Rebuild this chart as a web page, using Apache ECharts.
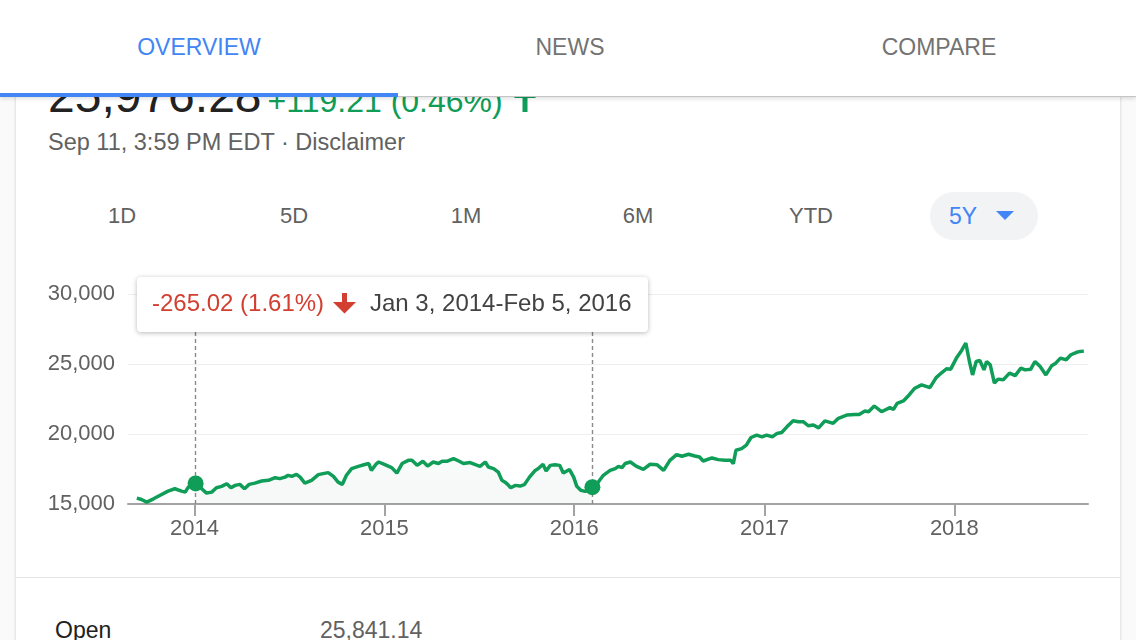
<!DOCTYPE html>
<html>
<head>
<meta charset="utf-8">
<title>Dow Jones 5Y</title>
<script src="https://cdn.jsdelivr.net/npm/echarts@6/dist/echarts.min.js"></script>
<style>
    html, body {
        margin: 0;
        padding: 0;
        width: 1136px;
        height: 640px;
        overflow: hidden;
        background: #fafafa;
        font-family: "Liberation Sans", Arial, sans-serif;
    }
    .card {
        position: absolute;
        left: 16px;
        top: 80px;
        width: 1104px;
        height: 600px;
        background: #fff;
        box-shadow: 0 0 3px rgba(0, 0, 0, 0.2);
    }
    .nav {
        position: absolute;
        left: 0;
        top: 0;
        width: 1136px;
        height: 96px;
        background: #fff;
        border-bottom: 1px solid #c4c4c4;
        box-shadow: 0 2px 4px rgba(0, 0, 0, 0.12);
        z-index: 10;
    }
    .tab {
        position: absolute;
        top: 34px;
        font-size: 23px;
        line-height: 26px;
        color: #737373;
        transform: translateX(-50%);
        white-space: nowrap;
    }
    .ink {
        position: absolute;
        left: 0;
        top: 93px;
        width: 398px;
        height: 4px;
        background: #4285f4;
    }
    .price {
        position: absolute;
        left: 48px;
        top: 72px;
        line-height: 48px;
        white-space: nowrap;
    }
    .price .big { font-size: 48px; color: #222; }
    .price .chg { font-size: 32px; color: #0f9d58; margin-left: 6px; }
    .stamp {
        position: absolute;
        left: 48px;
        top: 129px;
        font-size: 23.5px;
        line-height: 26px;
        color: #616161;
        white-space: nowrap;
    }
    .period {
        position: absolute;
        top: 203px;
        font-size: 22px;
        line-height: 26px;
        color: #616161;
        transform: translateX(-50%);
    }
    .chip {
        position: absolute;
        left: 930px;
        top: 192px;
        width: 108px;
        height: 48px;
        border-radius: 24px;
        background: #f1f3f4;
    }
    .chip span {
        position: absolute;
        left: 19px;
        top: 11px;
        font-size: 23px;
        line-height: 26px;
        color: #4285f4;
    }
    #chart {
        position: absolute;
        left: 0;
        top: 250px;
        width: 1136px;
        height: 330px;
    }
    .sep {
        position: absolute;
        left: 16px;
        top: 577px;
        width: 1104px;
        height: 1px;
        background: #e3e3e3;
    }
    .row {
        position: absolute;
        top: 617px;
        font-size: 23px;
        line-height: 26px;
        white-space: nowrap;
    }
</style>
</head>
<body>
<div class="card"></div>

<div class="price">
    <span class="big">25,976.28</span><span class="chg">+119.21 (0.46%)</span>
    <svg width="24" height="26" viewBox="0 0 24 26" style="margin-left:6px;vertical-align:baseline">
        <polygon points="9.5,26 14.5,26 14.5,12 23,12 12,0 1,12 9.5,12" fill="#0f9d58"></polygon>
    </svg>
</div>
<div class="stamp">Sep 11, 3:59 PM EDT · Disclaimer</div>

<div class="period" style="left:122px">1D</div>
<div class="period" style="left:294px">5D</div>
<div class="period" style="left:466px">1M</div>
<div class="period" style="left:638px">6M</div>
<div class="period" style="left:811px">YTD</div>
<div class="chip">
    <span>5Y</span>
    <svg width="18" height="10" style="position:absolute;left:66px;top:19px">
        <polygon points="0,0 18,0 9,9" fill="#4285f4"></polygon>
    </svg>
</div>

<div id="chart"></div>

<div class="sep"></div>
<div class="row" style="left:55px;color:#212121">Open</div>
<div class="row" style="left:320px;color:#616161">25,841.14</div>

<div class="nav">
    <div class="tab" style="left:199px;color:#4285f4">OVERVIEW</div>
    <div class="tab" style="left:570px">NEWS</div>
    <div class="tab" style="left:939px">COMPARE</div>
    <div class="ink"></div>
</div>

<script>
/****************数据（从图上读出的周收盘价）********************/
var weekDates = [
    '2013-09-12', '2013-09-21', '2013-10-01', '2013-10-14', '2013-10-26', '2013-11-11', '2013-11-24',
    '2013-12-07', '2013-12-14', '2013-12-20',
    '2014-01-03', '2014-01-11', '2014-01-24', '2014-02-03', '2014-02-12', '2014-02-22', '2014-03-04',
    '2014-03-12', '2014-03-20', '2014-03-29', '2014-04-07', '2014-04-16', '2014-04-27', '2014-05-10',
    '2014-05-23', '2014-06-05', '2014-06-14', '2014-06-24', '2014-06-30', '2014-07-07', '2014-07-16',
    '2014-07-23', '2014-08-01', '2014-08-14', '2014-08-27', '2014-09-05', '2014-09-15', '2014-09-25',
    '2014-10-04', '2014-10-12', '2014-10-20', '2014-10-30', '2014-11-12', '2014-11-26', '2014-12-02',
    '2014-12-07', '2014-12-17', '2014-12-21',
    '2015-01-02', '2015-01-15', '2015-01-25', '2015-02-04', '2015-02-16', '2015-02-23', '2015-03-05',
    '2015-03-16', '2015-03-25', '2015-04-05', '2015-04-15', '2015-04-22', '2015-05-01', '2015-05-14',
    '2015-05-24', '2015-06-02', '2015-06-15', '2015-06-25', '2015-07-04', '2015-07-14', '2015-07-20',
    '2015-07-30', '2015-08-08', '2015-08-15', '2015-08-21', '2015-08-26', '2015-09-01', '2015-09-10',
    '2015-09-19', '2015-09-27', '2015-10-07', '2015-10-18', '2015-10-24', '2015-11-02', '2015-11-08',
    '2015-11-16', '2015-11-25', '2015-12-04', '2015-12-11', '2015-12-23', '2015-12-31',
    '2016-01-06', '2016-01-14', '2016-01-22', '2016-02-05', '2016-02-14', '2016-02-26', '2016-03-10',
    '2016-03-20', '2016-03-26', '2016-04-02', '2016-04-08', '2016-04-18', '2016-04-29', '2016-05-13',
    '2016-05-26', '2016-06-08', '2016-06-21', '2016-07-03', '2016-07-16', '2016-07-26', '2016-08-08',
    '2016-08-20', '2016-08-29', '2016-09-05', '2016-09-22', '2016-10-04', '2016-10-17', '2016-10-28',
    '2016-11-02', '2016-11-07', '2016-11-18', '2016-11-27', '2016-12-06', '2016-12-17', '2016-12-27',
    '2017-01-05', '2017-01-16', '2017-01-25', '2017-02-03', '2017-02-13', '2017-02-25', '2017-03-07',
    '2017-03-17', '2017-03-26', '2017-04-05', '2017-04-15', '2017-04-27', '2017-05-13', '2017-05-23',
    '2017-06-08', '2017-06-24', '2017-07-02', '2017-07-13', '2017-07-20', '2017-07-31', '2017-08-14',
    '2017-08-30', '2017-09-06', '2017-09-13', '2017-09-25', '2017-10-06', '2017-10-17', '2017-10-30',
    '2017-11-15', '2017-11-27', '2017-12-08', '2017-12-17', '2017-12-25',
    '2018-01-06', '2018-01-15', '2018-01-23', '2018-01-30', '2018-02-05', '2018-02-12', '2018-02-19',
    '2018-02-27', '2018-03-04', '2018-03-11', '2018-03-19', '2018-03-26', '2018-04-05', '2018-04-17',
    '2018-04-28', '2018-05-09', '2018-05-17', '2018-05-28', '2018-06-05', '2018-06-15', '2018-06-26',
    '2018-07-07', '2018-07-15', '2018-07-24', '2018-08-04', '2018-08-13', '2018-08-23', '2018-08-31',
    '2018-09-07'
];
var closeValues = [
    15420, 15320, 15130, 15370, 15610, 15920, 16090,
    15920, 15850, 16210,
    16470, 16210, 15780, 15850, 16160, 16260, 16450,
    16160, 16330, 16400, 16090, 16400, 16490, 16640,
    16690, 16880, 16810, 16920, 17050, 16970, 17120,
    16920, 16490, 16690, 17100, 17170, 17240, 16970,
    16560, 16400, 17050, 17530, 17690, 17840, 17890,
    17400, 17890, 18000,
    17810, 17600, 17210, 17890, 18120, 18120, 17760,
    18050, 17710, 18000, 17890, 18050, 18050, 18240,
    18070, 17890, 17960, 17810, 17690, 18000, 17640,
    17530, 17280, 16690, 16560, 16400, 16160, 16330,
    16280, 16380, 16920, 17400, 17530, 17840, 17360,
    17760, 17810, 17760, 17210, 17460, 16920,
    16260, 15970, 15900, 16205, 16450, 17050, 17400,
    17530, 17690, 17600, 17890, 18000, 17710, 17480,
    17840, 17810, 17400, 18120, 18530, 18410, 18550,
    18430, 18360, 18070, 18290, 18170, 18120, 18120,
    17890, 18840, 18960, 19200, 19750, 19920, 19800,
    19920, 19800, 20040, 20110, 20510, 20940, 20870,
    20870, 20590, 20640, 20440, 20940, 20760, 21120,
    21350, 21400, 21400, 21640, 21590, 22000, 21590,
    21880, 21760, 22190, 22360, 22790, 23270, 23510,
    23310, 24030, 24390, 24660, 24630,
    25490, 25970, 26500, 25180, 24220, 25180, 25250,
    24580, 25180, 24940, 23630, 23920, 23870, 24350,
    24170, 24710, 24580, 24630, 25180, 24820, 24220,
    24870, 25060, 25420, 25300, 25660, 25820, 25900,
    25920
];
var yearTicks = ['2014', '2015', '2016', '2017', '2018'];
var priceTicks = [15000, 20000, 25000, 30000];
// 选中区间（起点、终点）
var rangeDates = ['2014-01-03', '2016-02-05'];
var rangeChange = '-265.02 (1.61%)';
var rangeLabel = 'Jan 3, 2014-Feb 5, 2016';

var DAY = 24 * 3600 * 1000;

// 千分位
function withComma(v) {
    return String(v).replace(/\B(?=(\d{3})+(?!\d))/g, ',');
}

/**************************折线图*******************/
function createStockLine() {
    var lineData = [];
    var areaData = [];
    for (var i = 0; i < weekDates.length; i++) {
        lineData.push([weekDates[i], closeValues[i]]);
        if (weekDates[i] >= rangeDates[0] && weekDates[i] <= rangeDates[1]) {
            areaData.push([weekDates[i], closeValues[i]]);
        }
    }
    var startIdx = weekDates.indexOf(rangeDates[0]);
    var endIdx = weekDates.indexOf(rangeDates[1]);
    var labelStyle = {
        fontFamily: '"Liberation Sans", Arial, sans-serif',
        fontSize: 22,
        color: '#616161'
    };

    var option = {
        animation: false,
        grid: {
            left: 128,
            right: 48,
            top: 44,
            bottom: 76
        },
        xAxis: {
            type: 'time',
            min: '2013-08-26',
            max: '2018-09-15',
            // 按年分刻度
            minInterval: 365 * DAY,
            maxInterval: 366 * DAY,
            axisLine: {
                lineStyle: { color: '#a3a3a3', width: 2 }
            },
            axisTick: {
                show: true,
                length: 12,
                lineStyle: { color: '#a3a3a3', width: 2 }
            },
            axisLabel: Object.assign({
                margin: 14,
                showMinLabel: false,
                showMaxLabel: false,
                hideOverlap: false,
                formatter: function (v) {
                    var y = String(new Date(v).getFullYear());
                    return yearTicks.indexOf(y) >= 0 ? y : '';
                }
            }, labelStyle),
            splitLine: { show: false }
        },
        yAxis: {
            type: 'value',
            min: priceTicks[0],
            max: priceTicks[priceTicks.length - 1],
            interval: priceTicks[1] - priceTicks[0],
            axisLine: { show: false },
            axisTick: { show: false },
            axisLabel: Object.assign({
                margin: 13,
                padding: [5, 0, 0, 0],
                formatter: withComma
            }, labelStyle),
            splitLine: {
                lineStyle: { color: '#eeeeee', width: 1 }
            }
        },
        series: [{
                name: 'range',
                type: 'line',
                data: areaData,
                showSymbol: false,
                silent: true,
                z: 1,
                lineStyle: { width: 0 },
                areaStyle: {
                    origin: 'start',
                    color: {
                        type: 'linear', x: 0, y: 0, x2: 0, y2: 1,
                        colorStops: [
                            { offset: 0, color: 'rgba(15,157,88,0.05)' },
                            { offset: 1, color: 'rgba(60,70,65,0.06)' }
                        ]
                    }
                }
            },
            {
                name: 'DJI',
                type: 'line',
                data: lineData,
                showSymbol: false,
                silent: true,
                z: 3,
                lineStyle: { color: '#0f9d58', width: 3.5 },
                markLine: {
                    silent: true,
                    symbol: 'none',
                    label: { show: false },
                    lineStyle: { color: '#8a8a8a', width: 1.4, type: [4, 3] },
                    data: [
                        { xAxis: rangeDates[0] },
                        { xAxis: rangeDates[1] }
                    ]
                },
                markPoint: {
                    silent: true,
                    symbol: 'circle',
                    symbolSize: 16,
                    label: { show: false },
                    itemStyle: { color: '#0f9d58' },
                    data: [
                        { coord: [rangeDates[0], closeValues[startIdx]] },
                        { coord: [rangeDates[1], closeValues[endIdx]] }
                    ]
                }
            }
        ],
        // 悬浮提示框（静态）
        graphic: [{
                type: 'rect',
                z: 100,
                shape: { x: 137, y: 27, width: 511, height: 55, r: 4 },
                style: {
                    fill: '#fff',
                    shadowBlur: 5,
                    shadowOffsetY: 1,
                    shadowColor: 'rgba(0,0,0,0.28)'
                }
            },
            {
                type: 'text',
                z: 101,
                x: 152,
                y: 54,
                style: {
                    text: rangeChange,
                    fill: '#d23f31',
                    font: '24px "Liberation Sans", Arial, sans-serif',
                    verticalAlign: 'middle'
                }
            },
            {
                type: 'polygon',
                z: 101,
                shape: {
                    points: [[342, 43], [347, 43], [347, 52], [356, 52], [344.5, 63.5], [333, 52], [342, 52]]
                },
                style: { fill: '#d23f31' }
            },
            {
                type: 'text',
                z: 101,
                x: 370,
                y: 54,
                style: {
                    text: rangeLabel,
                    fill: '#424242',
                    font: '24px "Liberation Sans", Arial, sans-serif',
                    verticalAlign: 'middle'
                }
            }
        ]
    };
    return option;
}

var myChartLine = echarts.init(document.getElementById('chart'), null, { renderer: 'canvas' });
myChartLine.setOption(createStockLine());
</script>
</body>
</html>
